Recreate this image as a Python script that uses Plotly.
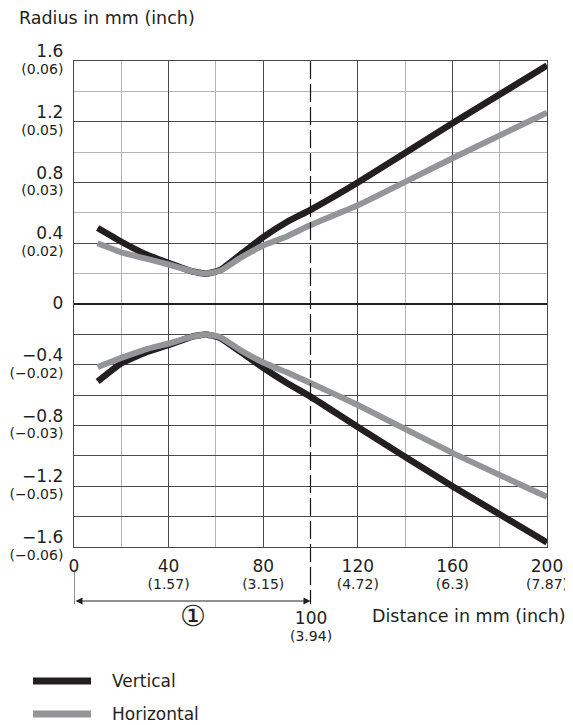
import plotly.graph_objects as go

# ---- data ----
x_mm = [10, 20, 30, 40, 50, 56, 62, 70, 80, 90, 100, 120, 160, 200]
vertical_upper = [0.50, 0.41, 0.33, 0.27, 0.215, 0.20, 0.225, 0.32, 0.44, 0.54, 0.62, 0.80, 1.19, 1.57]
vertical_lower = [-0.51, -0.39, -0.32, -0.27, -0.215, -0.20, -0.225, -0.31, -0.42, -0.52, -0.61, -0.81, -1.20, -1.57]
horizontal_upper = [0.40, 0.34, 0.30, 0.26, 0.215, 0.20, 0.22, 0.30, 0.385, 0.445, 0.52, 0.65, 0.96, 1.26]
horizontal_lower = [-0.415, -0.355, -0.30, -0.26, -0.215, -0.20, -0.22, -0.30, -0.385, -0.45, -0.52, -0.665, -0.98, -1.27]

series_names = ["Vertical", "Horizontal"]
series_colors = ["#231f20", "#939598"]

x_tick_vals = [0, 40, 80, 120, 160, 200]
x_tick_inch = ["", "(1.57)", "(3.15)", "(4.72)", "(6.3)", "(7.87)"]
x_minor_vals = [20, 60, 140, 180]

y_tick_vals = [-1.6, -1.2, -0.8, -0.4, 0, 0.4, 0.8, 1.2, 1.6]
y_tick_mm = ["−1.6", "−1.2", "−0.8", "−0.4", "0", "0.4", "0.8", "1.2", "1.6"]
y_tick_inch = ["(−0.06)", "(−0.05)", "(−0.03)", "(−0.02)", "", "(0.02)", "(0.03)", "(0.05)", "(0.06)"]
y_dark_minor = [-1.4, -1.0, -0.6, -0.2]
y_light_minor = [0.2, 0.6, 1.0, 1.4]

marker_x = 100
marker_label = "①"
marker_inch = "(3.94)"

x_title = "Distance in mm (inch)"
y_title = "Radius in mm (inch)"

FONT = "DejaVu Sans"
TXT = "#231f20"
DARK = "#4a4a4a"
LIGHT = "#b4b4b4"

# plot area (page pixels): x 74..547, y 61..547 ; page body has an 8px margin
PW, PH = 473, 486


def px_y(ypx):
    return -(ypx - 547) / PH


def px_x(xpx):
    return (xpx - 74) / PW


def two_line(main, sub):
    m = f"<span style='font-size:17px'>{main}</span>"
    return m if not sub else f"{m}<br><span style='font-size:14px'>{sub}</span>"


x_text = [two_line(str(v), s) for v, s in zip(x_tick_vals, x_tick_inch)]
y_vals = y_tick_vals + y_dark_minor
y_text = [two_line(m, s) for m, s in zip(y_tick_mm, y_tick_inch)] + [""] * len(y_dark_minor)

fig = go.Figure()
for name, color, up, lo, w in [
    (series_names[0], series_colors[0], vertical_upper, vertical_lower, 6.5),
    (series_names[1], series_colors[1], horizontal_upper, horizontal_lower, 6),
]:
    for ys in (up, lo):
        fig.add_trace(go.Scatter(x=x_mm, y=ys, mode="lines", name=name,
                                 line=dict(color=color, width=w, shape="spline", smoothing=0.4),
                                 showlegend=False, hoverinfo="skip"))

fig.update_layout(
    width=565, height=717, autosize=False,
    margin=dict(l=66, r=26, t=53, b=178, pad=0),
    paper_bgcolor="white", plot_bgcolor="white",
    font=dict(family=FONT, size=13, color=TXT),
    showlegend=False,
)
fig.update_xaxes(range=[0, 200], tickmode="array", tickvals=x_tick_vals, ticktext=x_text, automargin=False,
                 showgrid=True, gridcolor=DARK, gridwidth=1,
                 minor=dict(tickmode="array", tickvals=x_minor_vals, showgrid=True, gridcolor=LIGHT, gridwidth=1),
                 showline=True, linecolor=DARK, linewidth=1, mirror=True,
                 zeroline=False, ticks="", ticklabelstandoff=8, tickfont=dict(size=13, color=TXT))
fig.update_yaxes(range=[-1.6, 1.6], tickmode="array", tickvals=y_vals, ticktext=y_text, automargin=False,
                 showgrid=True, gridcolor=DARK, gridwidth=1,
                 minor=dict(tickmode="array", tickvals=y_light_minor, showgrid=True, gridcolor=LIGHT, gridwidth=1),
                 showline=True, linecolor=DARK, linewidth=1, mirror=True,
                 zeroline=True, zerolinecolor="#231f20", zerolinewidth=2,
                 ticks="", ticklabelstandoff=7, tickfont=dict(size=13, color=TXT))

# dashed line at 100 mm and dimension arrow
arrow_y = px_y(601)
low_y = px_y(604)
fig.add_shape(type="line", xref="x", yref="paper", x0=marker_x, x1=marker_x, y0=1, y1=low_y,
              line=dict(color="#111111", width=1.2, dash="18px,5px"), layer="above")
fig.add_shape(type="line", xref="x", yref="paper", x0=0, x1=0, y0=px_y(571), y1=low_y,
              line=dict(color=TXT, width=1))
fig.add_annotation(x=marker_x, y=arrow_y, xref="x", yref="paper", ax=0, ay=0, axref="x", ayref="pixel",
                   text="", showarrow=True, arrowside="end+start", arrowhead=2, arrowsize=1.4,
                   arrowwidth=1, arrowcolor=TXT)
fig.add_annotation(x=50.5, y=px_y(616), xref="x", yref="paper", text=marker_label,
                   showarrow=False, font=dict(size=29, color=TXT), yanchor="middle")
fig.add_annotation(x=marker_x, y=px_y(606), xref="x", yref="paper",
                   text=two_line(str(marker_x), marker_inch), showarrow=False,
                   font=dict(size=13, color=TXT), yanchor="top")

# axis titles
fig.add_annotation(x=px_x(568), y=px_y(616), xref="paper", yref="paper", text=x_title,
                   showarrow=False, xanchor="right", yanchor="middle", font=dict(size=17.5, color=TXT))
fig.add_annotation(x=px_x(17), y=px_y(18), xref="paper", yref="paper", text=y_title,
                   showarrow=False, xanchor="left", yanchor="middle", font=dict(size=17.5, color=TXT))

# legend (drawn by hand to match the long, thick swatches)
for i, (name, color) in enumerate(zip(series_names, series_colors)):
    yp = px_y(681 + 33 * i)
    fig.add_shape(type="line", xref="paper", yref="paper", x0=px_x(33), x1=px_x(91),
                  y0=yp, y1=yp, line=dict(color=color, width=7))
    fig.add_annotation(x=px_x(110), y=yp, xref="paper", yref="paper", text=name, showarrow=False,
                       xanchor="left", yanchor="middle", font=dict(size=17, color=TXT))

fig.write_html("out.html")
